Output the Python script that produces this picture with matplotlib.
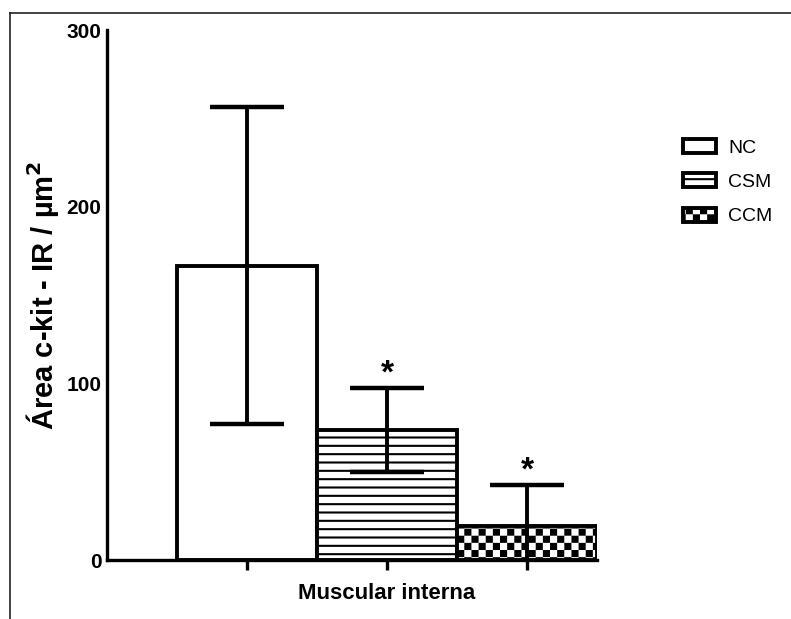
import warnings
import numpy as np
import matplotlib
matplotlib.use('Agg')
from matplotlib import pyplot as plt
from matplotlib import hatch as mhatch
from matplotlib.path import Path
from matplotlib.lines import Line2D

warnings.filterwarnings('ignore')

# data
groups = ['NC', 'CSM', 'CCM']
means = [166.6, 73.6, 19.4]
sds = [89.7, 23.5, 23.0]
stars = ['', '*', '*']
category = 'Muscular interna'
yticks = [0, 100, 200, 300]
hatches = [None, '--', 'c']


class CheckerHatch(mhatch.HatchPatternBase):
    # filled checkerboard, 14 cells per hatch unit for each 'c'
    def __init__(self, hatch, density):
        self.n = hatch.count('c') * 14
        self.num_vertices = (self.n * self.n // 2) * 5

    def set_vertices_and_codes(self, vertices, codes):
        s = 1.0 / self.n
        d = 0.0105  # inset so the stroked squares keep their size
        k = 0
        for i in range(self.n):
            for j in range(self.n):
                if (i + j) % 2:
                    continue
                x0, x1 = i * s + d, (i + 1) * s - d
                y0, y1 = j * s + d, (j + 1) * s - d
                vertices[k:k + 5] = [[x0, y0], [x1, y0], [x1, y1], [x0, y1], [x0, y0]]
                codes[k:k + 5] = [Path.MOVETO, Path.LINETO, Path.LINETO,
                                  Path.LINETO, Path.CLOSEPOLY]
                k += 5


mhatch._hatch_types.append(CheckerHatch)

plt.rcParams['font.family'] = ['Liberation Sans', 'DejaVu Sans']
plt.rcParams['hatch.linewidth'] = 1.5
plt.rcParams['hatch.color'] = 'black'

fig = plt.figure(figsize=(7.91, 6.19), dpi=100)
ax = fig.add_axes([0.1353, 0.0953, 0.6195, 0.8562])

x = np.arange(len(groups))
for i in range(len(groups)):
    ax.bar(x[i], means[i], width=1.0, color='white', edgecolor='black',
           linewidth=2.8, hatch=hatches[i], label=groups[i], zorder=2)
    ax.errorbar(x[i], means[i], yerr=sds[i], fmt='none', ecolor='black',
                elinewidth=2.8, capsize=26.5, capthick=3.2, zorder=3)
    if stars[i]:
        ax.text(x[i], means[i] + sds[i] + 8, stars[i], ha='center', va='center',
                fontsize=24, fontweight='bold')

ax.set_xlim(-1, 2.5)
ax.set_ylim(0, 300)
ax.set_yticks(yticks)
ax.set_xticks(x)
ax.set_xticklabels(['', '', ''])
ax.tick_params(axis='y', length=0, pad=4, labelsize=15)
ax.tick_params(axis='x', length=7.5, width=2.4, direction='out')
for lbl in ax.get_yticklabels():
    lbl.set_fontweight('bold')
for side in ['top', 'right']:
    ax.spines[side].set_visible(False)
for side in ['left', 'bottom']:
    ax.spines[side].set_linewidth(2.4)

ax.set_xlabel(category, fontsize=16, fontweight='bold')
ax.xaxis.set_label_coords(2.0 / 3.5, -0.043)
ax.set_ylabel('Área c-kit - IR / µm$^{\\mathbf{2}}$', fontsize=21, fontweight='bold')
ax.yaxis.set_label_coords(-0.093, 0.5)

fig.legend(loc='upper left', bbox_to_anchor=(0.864, 0.776), frameon=False,
           fontsize=14, handlelength=1.7, handleheight=0.75, labelspacing=0.85,
           handletextpad=0.6, borderpad=0, borderaxespad=0)

# outer frame
fig.add_artist(Line2D([10 / 791, 1], [1 - 13 / 619] * 2, transform=fig.transFigure,
                      color='#222222', linewidth=1.2))
fig.add_artist(Line2D([10 / 791] * 2, [0, 1 - 13 / 619], transform=fig.transFigure,
                      color='#222222', linewidth=1.2))

fig.savefig('out.png', dpi=100)
